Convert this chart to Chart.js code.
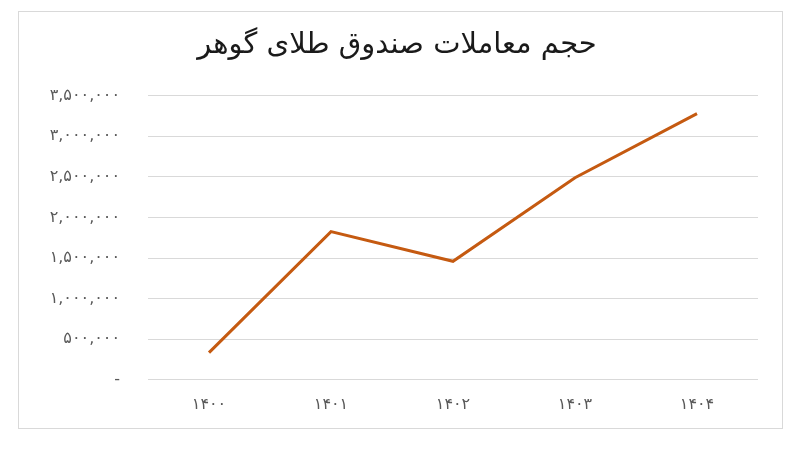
<!DOCTYPE html>
<html>
<head>
<meta charset="utf-8">
<script src="https://cdn.jsdelivr.net/npm/chart.js@4"></script>
<style>
  html, body { margin: 0; padding: 0; background: #ffffff; }
  #frame { position: absolute; left: 18px; top: 11px; width: 763px; height: 416px; border: 1px solid #d9d9d9; }
  #wrap { position: absolute; left: 0; top: 0; width: 800px; height: 450px; }
</style>
</head>
<body>
<div id="frame"></div>
<div id="wrap"><canvas id="c" width="800" height="450"></canvas></div>
<script>
const titleText = 'حجم معاملات صندوق طلای گوهر';
const categories = ['۱۴۰۰', '۱۴۰۱', '۱۴۰۲', '۱۴۰۳', '۱۴۰۴'];
const values = [335000, 1825000, 1460000, 2490000, 3280000];
const yTickLabels = ['-', '۵۰۰,۰۰۰', '۱,۰۰۰,۰۰۰', '۱,۵۰۰,۰۰۰', '۲,۰۰۰,۰۰۰', '۲,۵۰۰,۰۰۰', '۳,۰۰۰,۰۰۰', '۳,۵۰۰,۰۰۰'];
const yStep = 500000;

new Chart(document.getElementById('c'), {
  type: 'line',
  data: {
    labels: categories,
    datasets: [{
      data: values,
      borderColor: '#c55a11',
      borderWidth: 3,
      pointRadius: 0,
      tension: 0,
      fill: false
    }]
  },
  options: {
    responsive: false,
    animation: false,
    devicePixelRatio: 1,
    layout: { padding: { left: 36, right: 42, top: 0, bottom: 21 } },
    plugins: {
      legend: { display: false },
      tooltip: { enabled: false },
      title: {
        display: true,
        text: titleText,
        color: '#1a1a1a',
        font: { family: 'DejaVu Sans', size: 29, weight: 'normal' },
        padding: { top: 27.6, bottom: 33.3 }
      }
    },
    scales: {
      x: {
        offset: true,
        grid: { display: false, drawTicks: false },
        border: { display: false },
        ticks: {
          color: '#595959',
          padding: 15,
          font: { family: 'DejaVu Sans', size: 16 }
        }
      },
      y: {
        min: 0,
        max: 3500000,
        afterFit: (s) => { s.width = 112; },
        grid: { color: '#d9d9d9', lineWidth: 1, drawTicks: false },
        border: { display: false },
        ticks: {
          stepSize: yStep,
          color: '#595959',
          padding: 28,
          font: { family: 'DejaVu Sans', size: 16 },
          callback: (v) => yTickLabels[Math.round(v / yStep)]
        }
      }
    }
  }
});
</script>
</body>
</html>
